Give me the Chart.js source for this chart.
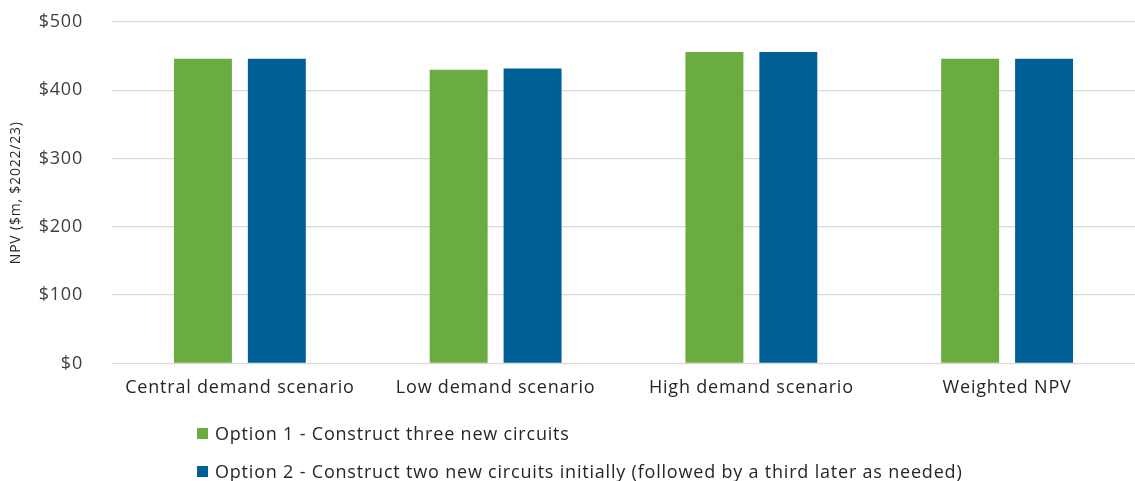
<!DOCTYPE html>
<html>
<head>
<meta charset="utf-8">
<script src="https://cdn.jsdelivr.net/npm/chart.js@4.4.1/dist/chart.umd.min.js"></script>
<style>
  html, body { margin: 0; padding: 0; background: #fff; }
  #wrap { position: relative; width: 1135px; height: 481px; overflow: hidden; }
  #chart { position: absolute; left: 0; top: 0; }
  #legend { position: absolute; left: 197px; top: 414px; font-family: "Open Sans", sans-serif; font-size: 18px; letter-spacing: 0.8px; color: #262626; }
  .item { display: flex; align-items: center; height: 38px; white-space: nowrap; }
  .swatch { width: 11px; height: 11px; margin-right: 7px; }
</style>
</head>
<body>
<div id="wrap">
  <canvas id="chart" width="1135" height="481"></canvas>
  <div id="legend"></div>
</div>
<script>
const categories = ['Central demand scenario', 'Low demand scenario', 'High demand scenario', 'Weighted NPV'];
const option1Values = [446, 430, 456, 446];
const option2Values = [446, 432, 456, 446];
const seriesNames = [
  'Option 1 - Construct three new circuits',
  'Option 2 - Construct two new circuits initially (followed by a third later as needed)'
];
const seriesColors = ['#6AAC40', '#005F94'];
const yTicks = [0, 100, 200, 300, 400, 500];

const FONT = '"Open Sans", sans-serif';

// Slightly open letter spacing for all canvas text
const spacing = {
  id: 'spacing',
  beforeUpdate(chart) { chart.ctx.letterSpacing = '0.8px'; },
  beforeDraw(chart) { chart.ctx.letterSpacing = '0.8px'; }
};

const chart = new Chart(document.getElementById('chart'), {
  type: 'bar',
  plugins: [spacing],
  data: {
    labels: categories,
    datasets: [
      { label: seriesNames[0], data: option1Values, backgroundColor: seriesColors[0] },
      { label: seriesNames[1], data: option2Values, backgroundColor: seriesColors[1] }
    ]
  },
  options: {
    responsive: false,
    animation: false,
    layout: { padding: { top: 22, right: 0, bottom: 68, left: 0 } },
    datasets: { bar: { categoryPercentage: 0.578, barPercentage: 0.784 } },
    plugins: { legend: { display: false }, tooltip: { enabled: false } },
    scales: {
      x: {
        grid: { display: false, drawTicks: false },
        border: { display: false },
        ticks: { color: '#262626', font: { family: FONT, size: 18 }, padding: 14 }
      },
      y: {
        min: 0, max: 500,
        afterBuildTicks: (s) => { s.ticks = yTicks.map(v => ({ value: v })); },
        afterFit: (s) => { s.width = 112; s.paddingTop = 0; s.paddingBottom = 0; },
        grid: { color: '#d9d9d9', lineWidth: 1.3, drawTicks: false },
        border: { display: false },
        ticks: {
          color: '#404040', font: { family: FONT, size: 18 }, padding: 29,
          callback: (v) => '$' + v
        },
        title: {
          display: true, text: 'NPV ($m, $2022/23)', color: '#262626',
          font: { family: FONT, size: 14 }, padding: { top: 8, bottom: 0 }
        }
      }
    }
  }
});

// Legend stacked below the plot, one entry per row
const legend = document.getElementById('legend');
chart.data.datasets.forEach((ds) => {
  const row = document.createElement('div');
  row.className = 'item';
  const sw = document.createElement('span');
  sw.className = 'swatch';
  sw.style.background = ds.backgroundColor;
  const tx = document.createElement('span');
  tx.textContent = ds.label;
  row.appendChild(sw);
  row.appendChild(tx);
  legend.appendChild(row);
});
</script>
</body>
</html>
